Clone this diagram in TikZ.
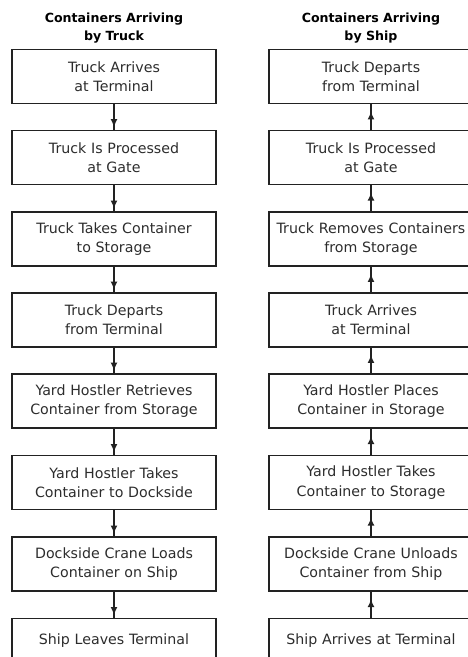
\documentclass[tikz,border=0pt]{standalone}
\usepackage{fontspec}
\setmainfont{DejaVu Sans}
\usetikzlibrary{arrows.meta,decorations.markings}
\definecolor{ink}{HTML}{222222}
\definecolor{txt}{HTML}{2C2C2C}
\tikzset{
  stepbox/.style={draw=ink, line width=1.6pt, minimum height=54pt, text width=204pt,
    inner xsep=0pt, inner ysep=0pt, align=center,
    font=\fontsize{14.2}{19.3}\selectfont, text=txt},
  lastbox/.style={stepbox, minimum height=44pt},
  coltitle/.style={align=center, inner sep=0pt, font=\fontsize{12.6}{18.3}\selectfont\bfseries, text=black},
  downconn/.style={draw=ink, line width=1.6pt, postaction={decorate},
    decoration={markings, mark=at position 0.9 with {\arrow{Latex[length=8pt,width=7pt]}}}},
  upconn/.style={draw=ink, line width=1.6pt, postaction={decorate},
    decoration={markings, mark=at position 0.72 with {\arrow{Latex[length=8pt,width=7pt]}}}}
}
\begin{document}
\begin{tikzpicture}[x=1pt,y=-1pt]
\useasboundingbox (0,0) rectangle (468,657);
\clip (0,0) rectangle (468,657);
% titles
\node[coltitle, anchor=north] (tl) at (114,12.5) {Containers Arriving\\by Truck};
\node[coltitle, anchor=north] (tr) at (371,12.5) {Containers Arriving\\by Ship};
% left column
\node[stepbox] (L1) at (114,76.5) {Truck Arrives\\at Terminal};
\node[stepbox] (L2) at (114,157.5) {Truck Is Processed\\at Gate};
\node[stepbox] (L3) at (114,239) {Truck Takes Container\\to Storage};
\node[stepbox] (L4) at (114,320) {Truck Departs\\from Terminal};
\node[stepbox] (L5) at (114,401) {Yard Hostler Retrieves\\Container from Storage};
\node[stepbox] (L6) at (114,482.5) {Yard Hostler Takes\\Container to Dockside};
\node[stepbox] (L7) at (114,564) {Dockside Crane Loads\\Container on Ship};
\node[lastbox] (L8) at (114,640.5) {Ship Leaves Terminal};
% right column
\node[stepbox] (R1) at (371,76.5) {Truck Departs\\from Terminal};
\node[stepbox] (R2) at (371,157.5) {Truck Is Processed\\at Gate};
\node[stepbox] (R3) at (371,239) {Truck Removes Containers\\from Storage};
\node[stepbox] (R4) at (371,320) {Truck Arrives\\at Terminal};
\node[stepbox] (R5) at (371,401) {Yard Hostler Places\\Container in Storage};
\node[stepbox] (R6) at (371,482.5) {Yard Hostler Takes\\Container to Storage};
\node[stepbox] (R7) at (371,564) {Dockside Crane Unloads\\Container from Ship};
\node[lastbox] (R8) at (371,640.5) {Ship Arrives at Terminal};
% connectors
\foreach \a/\b in {L1/L2,L2/L3,L3/L4,L4/L5,L5/L6,L6/L7,L7/L8}
  \path[downconn] (\a.south) -- (\b.north);
\foreach \a/\b in {R2/R1,R3/R2,R4/R3,R5/R4,R6/R5,R7/R6,R8/R7}
  \path[upconn] (\a.north) -- (\b.south);
\end{tikzpicture}
\end{document}
